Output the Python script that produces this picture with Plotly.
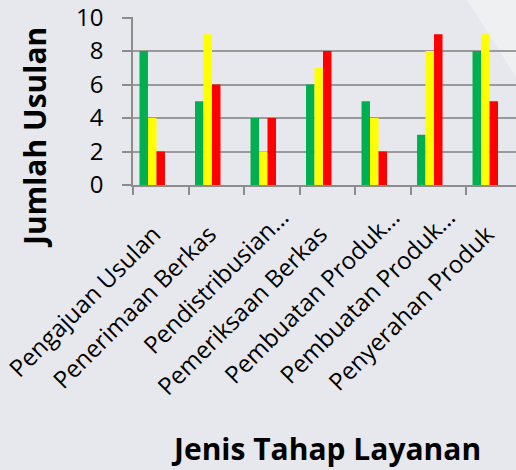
import plotly.graph_objects as go

# normal labels carry a trailing em space so that they sit like the reference;
# truncated labels ("…") do not
categories = ["Pengajuan Usulan\u2003", "Penerimaan Berkas\u2003", "Pendistribusian…",
              "Pemeriksaan Berkas\u2003", "Pembuatan Produk…", "Pembuatan Produk…\u200b",
              "Penyerahan Produk\u2003"]
green_vals = [8, 5, 4, 6, 5, 3, 8]
yellow_vals = [4, 9, 2, 7, 4, 8, 9]
red_vals = [2, 6, 4, 8, 2, 9, 5]
y_ticks = [0, 2, 4, 6, 8, 10]

FONT = "Open Sans"
bw = 0.153
start = -0.383

fig = go.Figure()
for i, (vals, col) in enumerate([(green_vals, "#00b050"), (yellow_vals, "#ffff00"), (red_vals, "#ff0000")]):
    fig.add_trace(go.Bar(x=categories, y=vals, marker=dict(color=col, line=dict(width=0)),
                         width=bw, offset=start + i * bw, showlegend=False))

fig.update_layout(
    width=516, height=470,
    margin=dict(l=133, r=0, t=17, b=285),
    paper_bgcolor="#e6e8ed", plot_bgcolor="rgba(0,0,0,0)",
    barmode="overlay",
    font=dict(family=FONT, color="#000000"),
    shapes=[dict(type="path", xref="paper", yref="paper", layer="below",
                 path="M 0.872 1.101 L 1.0 1.101 L 1.0 0.643 Z",
                 fillcolor="#eff0f2", line=dict(width=0))],
    annotations=[
        dict(text="<b>Jumlah Usulan</b>", xref="paper", yref="paper", x=-0.256, y=0.286,
             xanchor="center", yanchor="middle", textangle=-90, showarrow=False,
             font=dict(size=30, family=FONT)),
        dict(text="<b>Jenis Tahap Layanan</b>", xref="paper", yref="paper", x=0.503, y=-1.571,
             xanchor="center", yanchor="middle", showarrow=False,
             font=dict(size=30, family=FONT)),
    ],
)
fig.update_xaxes(range=[-0.5, 6.4], showline=True, linecolor="#8c8c8c", linewidth=1.5,
                 ticks="outside", ticklen=8, tickcolor="#8c8c8c", tickwidth=1.5,
                 tickson="boundaries", tickangle=-45, showgrid=False,
                 ticklabelstandoff=7, ticklabelshift=10,
                 tickfont=dict(size=24, family=FONT, color="#000000"))
fig.update_yaxes(range=[0, 10.03], tickvals=y_ticks, showline=True, linecolor="#8c8c8c", linewidth=1.5,
                 ticks="outside", ticklen=9, tickcolor="#8c8c8c", tickwidth=1.5,
                 showgrid=True, gridcolor="#9a9a9a", gridwidth=1.5, zeroline=False,
                 ticklabelstandoff=14, ticklabeloverflow="allow",
                 tickfont=dict(size=24, family=FONT, color="#000000"))
fig.write_html("out.html")
